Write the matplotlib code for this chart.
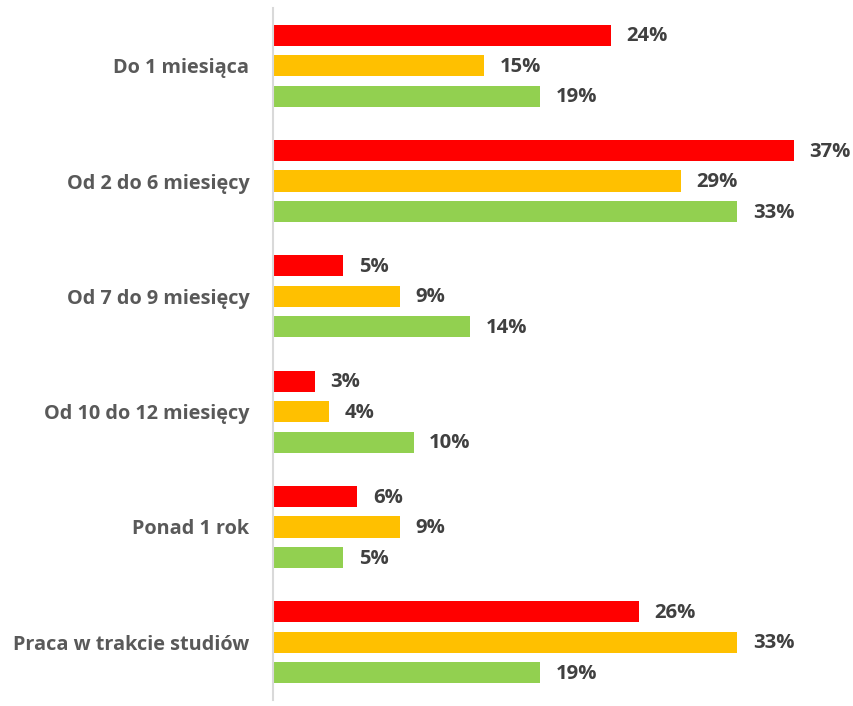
import matplotlib
matplotlib.use("Agg")
import matplotlib.pyplot as plt
import numpy as np

categories = ["Do 1 miesiąca", "Od 2 do 6 miesięcy", "Od 7 do 9 miesięcy",
              "Od 10 do 12 miesięcy", "Ponad 1 rok", "Praca w trakcie studiów"]
series_red = [24, 37, 5, 3, 6, 26]
series_yellow = [15, 29, 9, 4, 9, 33]
series_green = [19, 33, 14, 10, 5, 19]
colors = ["#FF0000", "#FFC000", "#92D050"]

plt.rcParams['font.family'] = ['Open Sans', 'DejaVu Sans']

fig = plt.figure(figsize=(8.54, 7.06), dpi=100)
W, H = 854, 706
ax = fig.add_axes([273 / W, 1 - 700 / H, 1 - 273 / W, 692 / H])

y = np.arange(len(categories))
step = 0.264
bh = 0.183
for i, (vals, c) in enumerate(zip([series_red, series_yellow, series_green], colors)):
    pos = y + (i - 1) * step
    ax.barh(pos, vals, height=bh, color=c)
    for p, v in zip(pos, vals):
        ax.text(v + 1.1, p + 0.01, f"{v}%", va="center", ha="left",
                fontsize=14.6, fontweight="bold", color="#404040")

ax.set_ylim(5.5, -0.5)
ax.set_xlim(0, (W - 273) / 14.07)
ax.set_yticks(y)
ax.set_yticklabels(categories, fontsize=14.3, fontweight="bold", color="#595959")
ax.tick_params(axis="y", length=0, pad=17)
ax.set_xticks([])
for s in ["top", "right", "bottom"]:
    ax.spines[s].set_visible(False)
ax.spines["left"].set_color("#D9D9D9")
ax.spines["left"].set_linewidth(1.5)

fig.savefig("out.png", dpi=100)
